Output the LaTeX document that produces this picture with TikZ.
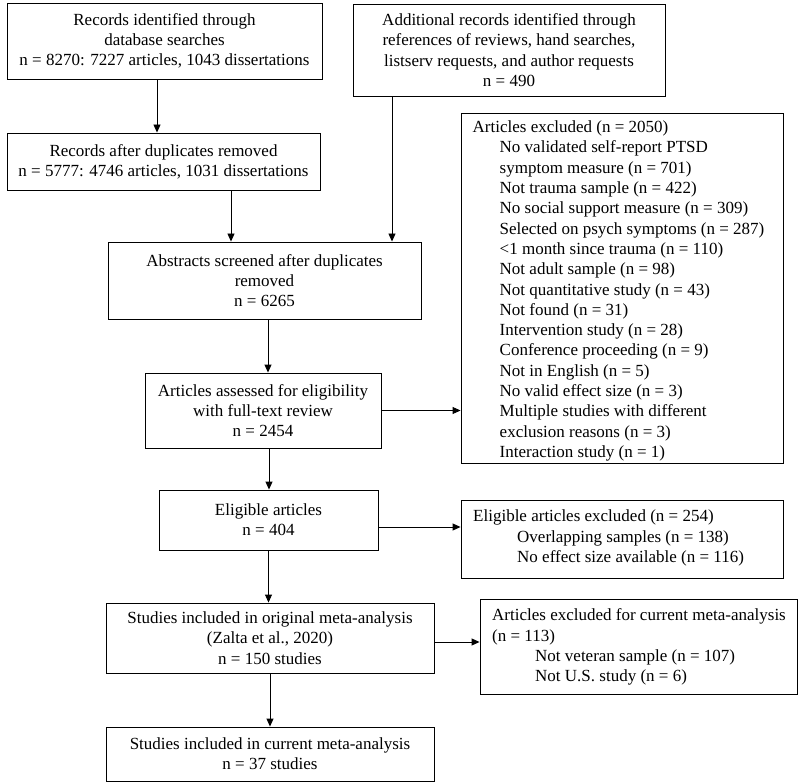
\documentclass[tikz,border=0pt]{standalone}
\usepackage{fontspec}
\setmainfont{Liberation Serif}
\usetikzlibrary{arrows.meta}
\begin{document}
\begin{tikzpicture}[x=1pt,y=-1pt,
  every node/.style={font=\fontsize{17}{20.3}\selectfont, inner sep=0pt},
  box/.style={draw, line width=0.9pt, align=center},
  txt/.style={align=left, anchor=west},
  arr/.style={line width=0.9pt, -{Triangle[length=8pt,width=7pt]}}]
\useasboundingbox (0,0) rectangle (800,783);

% left column
\node[box, minimum width=315pt, minimum height=76pt] (rec) at (164.5,41)
  {Records identified through\\database searches\\n = 8270: 7227 articles, 1043 dissertations};
\node[box, minimum width=312pt, minimum height=92pt] (add) at (509,50)
  {Additional records identified through\\references of reviews, hand searches,\\listserv requests, and author requests\\n = 490};
\node[box, minimum width=313pt, minimum height=57pt] (dup) at (163.5,161.5)
  {Records after duplicates removed\\n = 5777: 4746 articles, 1031 dissertations};
\node[box, minimum width=313pt, minimum height=77pt] (abs) at (264.5,280.5)
  {Abstracts screened after duplicates\\removed\\n = 6265};
\node[box, minimum width=236pt, minimum height=75pt] (assess) at (263,410.5)
  {Articles assessed for eligibility\\with full-text review\\n = 2454};
\node[box, minimum width=219pt, minimum height=60pt] (elig) at (268.5,520)
  {Eligible articles\\n = 404};
\node[box, minimum width=328pt, minimum height=70pt] (orig) at (270,638)
  {Studies included in original meta-analysis\\(Zalta et al., 2020)\\n = 150 studies};
\node[box, minimum width=328pt, minimum height=54pt] (final) at (270,754)
  {Studies included in current meta-analysis\\n = 37 studies};

% right column boxes
\node[box, minimum width=322pt, minimum height=350pt] (exc1) at (622,288) {};
\node[txt] (exc1text) at (472.5,291) {Articles excluded (n = 2050)\\
\hspace*{27pt}No validated self-report PTSD\\
\hspace*{27pt}symptom measure (n = 701)\\
\hspace*{27pt}Not trauma sample (n = 422)\\
\hspace*{27pt}No social support measure (n = 309)\\
\hspace*{27pt}Selected on psych symptoms (n = 287)\\
\hspace*{27pt}<1 month since trauma (n = 110)\\
\hspace*{27pt}Not adult sample (n = 98)\\
\hspace*{27pt}Not quantitative study (n = 43)\\
\hspace*{27pt}Not found (n = 31)\\
\hspace*{27pt}Intervention study (n = 28)\\
\hspace*{27pt}Conference proceeding (n = 9)\\
\hspace*{27pt}Not in English (n = 5)\\
\hspace*{27pt}No valid effect size (n = 3)\\
\hspace*{27pt}Multiple studies with different\\
\hspace*{27pt}exclusion reasons (n = 3)\\
\hspace*{27pt}Interaction study (n = 1)};

\node[box, minimum width=322pt, minimum height=78pt] (exc2) at (622,539) {};
\node[txt] (exc2text) at (473,538) {Eligible articles excluded (n = 254)\\
\hspace*{44pt}Overlapping samples (n = 138)\\
\hspace*{44pt}No effect size available (n = 116)};

\node[box, minimum width=317pt, minimum height=95pt] (exc3) at (638.5,646.5) {};
\node[txt] (exc3text) at (492,647) {Articles excluded for current meta-analysis\\
(n = 113)\\
\hspace*{43pt}Not veteran sample (n = 107)\\
\hspace*{43pt}Not U.S. study (n = 6)};

% connectors
\draw[arr] ([xshift=-7.5pt]rec.south) -- ([xshift=-7.5pt]rec.south |- dup.north);
\draw[arr] ([xshift=67.5pt]dup.south) -- ([xshift=67.5pt]dup.south |- abs.north);
\draw[arr] ([xshift=-117pt]add.south) -- ([xshift=-117pt]add.south |- abs.north);
\draw[arr] ([xshift=3.5pt]abs.south) -- ([xshift=3.5pt]abs.south |- assess.north);
\draw[arr] (assess.east) -- (assess.east -| exc1.west);
\draw[arr] ([xshift=6pt]assess.south) -- ([xshift=6pt]assess.south |- elig.north);
\draw[arr] ([yshift=-7pt]elig.east) -- ([yshift=-7pt]elig.east -| exc2.west);
\draw[arr] (elig.south) -- (elig.south |- orig.north);
\draw[arr] ([yshift=-4pt]orig.east) -- ([yshift=-4pt]orig.east -| exc3.west);
\draw[arr] (orig.south) -- (final.north);
\end{tikzpicture}
\end{document}
